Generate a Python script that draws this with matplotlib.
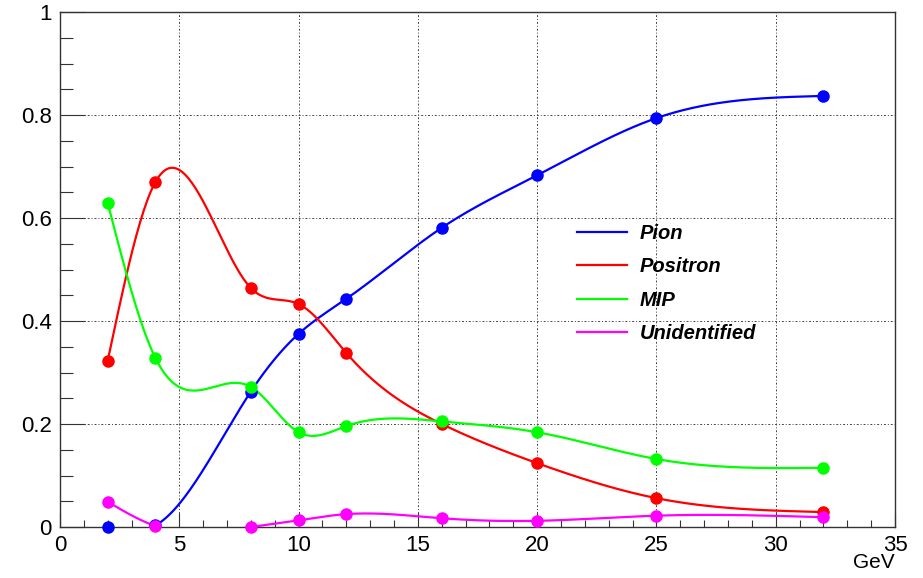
import numpy as np
import matplotlib
matplotlib.use("Agg")
import matplotlib.pyplot as plt
from matplotlib.ticker import MultipleLocator

plt.rcParams['font.family'] = ['Liberation Sans', 'DejaVu Sans']

# beam energies (GeV) and particle fractions
energy = [2, 4, 8, 10, 12, 16, 20, 25, 32]
pion = [0.0, 0.003, 0.263, 0.375, 0.443, 0.581, 0.683, 0.794, 0.837]
positron = [0.323, 0.670, 0.464, 0.433, 0.338, 0.200, 0.124, 0.056, 0.029]
mip = [0.629, 0.328, 0.272, 0.184, 0.196, 0.205, 0.184, 0.132, 0.115]
unident = [0.049, 0.002, 0.0, 0.013, 0.025, 0.017, 0.012, 0.022, 0.019]


def smooth(x, y, n=400):
    # natural cubic spline through the points, for drawing only
    x = np.asarray(x, float)
    y = np.asarray(y, float)
    k = len(x)
    h = np.diff(x)
    A = np.zeros((k, k))
    b = np.zeros(k)
    A[0, 0] = A[-1, -1] = 1
    for i in range(1, k - 1):
        A[i, i - 1] = h[i - 1]
        A[i, i] = 2 * (h[i - 1] + h[i])
        A[i, i + 1] = h[i]
        b[i] = 6 * ((y[i + 1] - y[i]) / h[i] - (y[i] - y[i - 1]) / h[i - 1])
    M = np.linalg.solve(A, b)
    xs = np.linspace(x[0], x[-1], n)
    j = np.clip(np.searchsorted(x, xs) - 1, 0, k - 2)
    t0 = x[j + 1] - xs
    t1 = xs - x[j]
    hh = h[j]
    ys = (M[j] * t0**3 + M[j + 1] * t1**3) / (6 * hh) \
        + (y[j] / hh - M[j] * hh / 6) * t0 + (y[j + 1] / hh - M[j + 1] * hh / 6) * t1
    return xs, ys


fig = plt.figure(figsize=(9.23, 5.78), dpi=100)
ax = fig.add_axes([60 / 923, 1 - 527 / 578, 835 / 923, 515 / 578])

series = [(pion, '#0000ff', 'Pion'),
          (positron, '#ff0000', 'Positron'),
          (mip, '#00ff00', 'MIP'),
          (unident, '#ff00ff', 'Unidentified')]

for vals, col, name in series:
    xs, ys = smooth(energy, vals)
    ax.plot(xs, ys, color=col, lw=1.6, label=name, zorder=3)
    ax.plot(energy, vals, 'o', color=col, ms=8, zorder=4, clip_on=False)

ax.set_xlim(0, 35)
ax.set_ylim(0, 1)
ax.xaxis.set_major_locator(MultipleLocator(5))
ax.xaxis.set_minor_locator(MultipleLocator(1))
ax.yaxis.set_major_locator(MultipleLocator(0.2))
ax.yaxis.set_minor_locator(MultipleLocator(0.05))
ax.yaxis.set_major_formatter(plt.FuncFormatter(lambda v, p: '%g' % round(v, 2)))

ax.grid(True, which='major', color='#444444', lw=0.7, linestyle=(0, (2, 2, 1, 2)))
ax.tick_params(which='both', direction='in', width=0.8, color='#333333')
ax.tick_params(axis='x', which='major', length=10, labelsize=16, pad=6)
ax.tick_params(axis='x', which='minor', length=5)
ax.tick_params(axis='y', which='major', length=18, labelsize=16, pad=6)
ax.tick_params(axis='y', which='minor', length=9)
for s in ax.spines.values():
    s.set_color('#333333')
    s.set_linewidth(1.0)

fig.text(895 / 923, 1 - 562 / 578, 'GeV', ha='right', va='center', fontsize=15)

ax.legend(loc='upper left', bbox_to_anchor=(577 / 923, 1 - 224 / 578),
          bbox_transform=fig.transFigure, frameon=False, borderpad=0,
          borderaxespad=0, handlelength=2.5, handletextpad=0.6,
          labelspacing=0.72, prop={'size': 14.5, 'style': 'italic', 'weight': 'bold'})

fig.savefig('out.png', dpi=100)
